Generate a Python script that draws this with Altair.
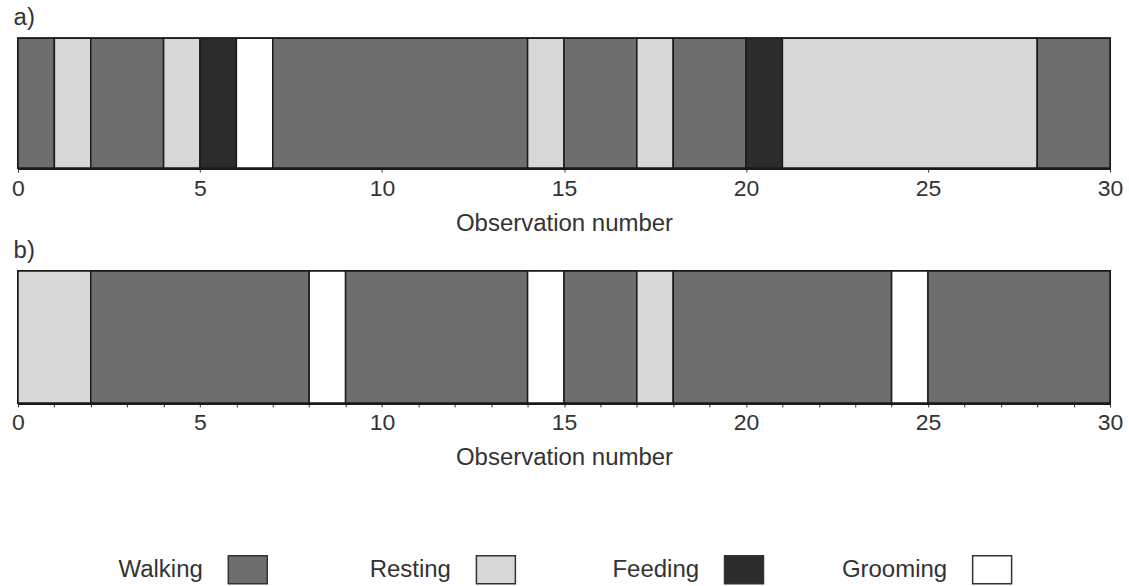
import altair as alt
import pandas as pd

behaviours = ["Walking", "Resting", "Feeding", "Grooming"]
colours = ["#6e6e6e", "#d8d8d8", "#2c2c2c", "#ffffff"]

a_starts = [0, 1, 2, 4, 5, 6, 7, 14, 15, 17, 18, 20, 21, 28]
a_ends = [1, 2, 4, 5, 6, 7, 14, 15, 17, 18, 20, 21, 28, 30]
a_behav = ["Walking", "Resting", "Walking", "Resting", "Feeding", "Grooming", "Walking",
           "Resting", "Walking", "Resting", "Walking", "Feeding", "Resting", "Walking"]

b_starts = [0, 2, 8, 9, 14, 15, 17, 18, 24, 25]
b_ends = [2, 8, 9, 14, 15, 17, 18, 24, 25, 30]
b_behav = ["Resting", "Walking", "Grooming", "Walking", "Grooming", "Walking",
           "Resting", "Walking", "Grooming", "Walking"]

major_ticks = [0, 5, 10, 15, 20, 25, 30]
minor_ticks = list(range(31))

FONT = "Liberation Sans"
W = 1093

color_enc = alt.Color("behaviour:N", scale=alt.Scale(domain=behaviours, range=colours), legend=None)


def panel(starts, ends, behav, label, ticks, h):
    df = pd.DataFrame({"start": starts, "end": ends, "behaviour": behav})
    return alt.Chart(
        df,
        title=alt.TitleParams(label, anchor="start", fontSize=24, font=FONT, fontWeight="normal",
                              color="#333", dx=2, offset=7),
    ).mark_rect(stroke="#1a1a1a", strokeWidth=1.5).encode(
        x=alt.X("start:Q", scale=alt.Scale(domain=[0, 30], nice=False, zero=False),
                axis=alt.Axis(values=ticks, labelExpr="datum.value % 5 == 0 ? datum.label : ''",
                              title="Observation number", labelFlush=False)),
        x2="end:Q",
        color=color_enc,
    ).properties(width=W, height=h)


pa = panel(a_starts, a_ends, a_behav, "a)", major_ticks, 130)
pb = panel(b_starts, b_ends, b_behav, "b)", minor_ticks, 132)

leg_df = pd.DataFrame({"behaviour": behaviours})
leg_x = alt.X("behaviour:N", sort=behaviours,
              scale=alt.Scale(type="point", range=[230, 975], padding=0), axis=None)
swatch = alt.Chart(leg_df).mark_rect(width=39, stroke="#333", strokeWidth=1.5).encode(
    x=leg_x, color=color_enc)
labels = alt.Chart(leg_df).mark_text(align="right", dx=-45, fontSize=24, font=FONT, color="#333").encode(
    x=leg_x, text="behaviour:N")
legend = (swatch + labels).properties(width=W, height=28, view=alt.ViewBackground(strokeWidth=0))

panels = alt.vconcat(pa, pb, spacing=2)
chart = alt.vconcat(panels, legend, spacing=84).configure(
    padding={"left": 10, "top": 5, "right": 5, "bottom": 0},
    font=FONT,
).configure_view(
    stroke="#1a1a1a", strokeWidth=2,
).configure_axis(
    grid=False, domainColor="#1a1a1a", domainWidth=3, tickColor="#333", tickSize=4,
    labelFontSize=23, titleFontSize=24, titleFontWeight="normal", labelColor="#333", titleColor="#333",
    labelFont=FONT, titleFont=FONT, labelPadding=5, titlePadding=11,
)

chart.save("out.html", embed_options={"renderer": "svg", "actions": False})
